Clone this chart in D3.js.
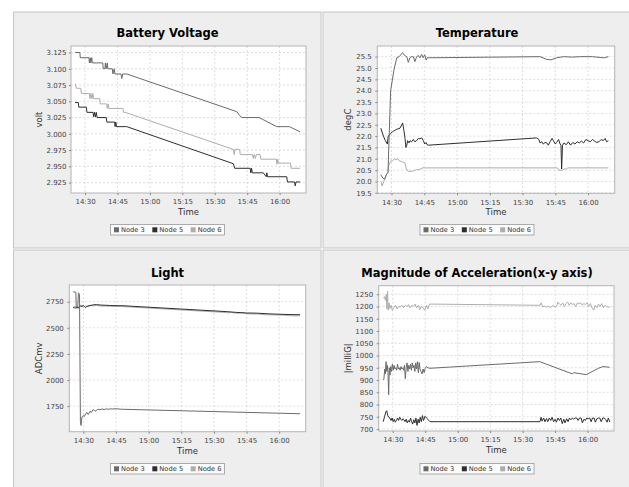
<!DOCTYPE html>
<html><head><meta charset="utf-8">
<script src="https://cdn.jsdelivr.net/npm/d3@7"></script>
<style>
body{margin:0;background:#fff;}
svg{display:block;font-family:"DejaVu Sans",sans-serif;}
</style></head><body>
<svg id="c" width="629" height="487"></svg>
<script>
// ---- data (time = minutes after 14:00) ----
const xTickLabels = ["14:30","14:45","15:00","15:15","15:30","15:45","16:00"];
const xDomainMinutes = [23.5, 132.2];
const seriesNames = ["Node 3","Node 5","Node 6"];

const voltTicks = [2.925,2.950,2.975,3.000,3.025,3.050,3.075,3.100,3.125];
const tempTicks = [19.5,20.0,20.5,21.0,21.5,22.0,22.5,23.0,23.5,24.0,24.5,25.0,25.5];
const lightTicks = [1750,2000,2250,2500,2750];
const accelTicks = [700,750,800,850,900,950,1000,1050,1100,1150,1200,1250];

const volt3 = [[25.4,3.125],[27.6,3.125],[27.8,3.117],[31.8,3.117],[32.0,3.109],[32.4,3.117],[32.7,3.109],[33.1,3.117],[33.4,3.109],[38.2,3.109],[38.4,3.100],[39.2,3.100],[39.4,3.109],[39.7,3.100],[40.3,3.109],[40.5,3.100],[42.6,3.100],[42.9,3.092],[43.5,3.100],[43.8,3.092],[46.6,3.092],[47.0,3.085],[47.4,3.092],[49.3,3.092],[100.2,3.034],[101.5,3.028],[102.5,3.025],[110.5,3.025],[118.7,3.011],[124.5,3.011],[129.5,3.003]];
const volt5 = [[25.4,3.048],[26.9,3.048],[27.1,3.041],[30.6,3.041],[30.9,3.033],[33.7,3.033],[34.0,3.026],[34.4,3.033],[34.8,3.026],[35.2,3.033],[35.6,3.025],[39.8,3.025],[40.1,3.018],[43.7,3.018],[43.9,3.011],[44.2,3.018],[44.6,3.011],[49.3,3.011],[98.6,2.954],[99.2,2.947],[106.4,2.947],[106.7,2.940],[107.0,2.947],[107.4,2.940],[112.5,2.940],[113.8,2.934],[114.1,2.940],[114.4,2.934],[123.3,2.934],[123.6,2.926],[126.9,2.926],[127.2,2.920],[127.6,2.926],[129.5,2.926]];
const volt6 = [[25.4,3.077],[26.0,3.070],[28.0,3.070],[28.3,3.062],[32.0,3.062],[32.3,3.054],[32.7,3.062],[33.2,3.054],[33.6,3.062],[34.0,3.054],[36.8,3.054],[37.0,3.046],[40.0,3.046],[40.3,3.039],[40.7,3.046],[41.0,3.039],[47.5,3.039],[47.8,3.033],[48.6,3.033],[98.6,2.976],[99.0,2.968],[99.3,2.976],[101.5,2.976],[101.8,2.968],[107.5,2.968],[107.8,2.962],[108.2,2.968],[108.8,2.962],[109.2,2.968],[111.0,2.968],[111.3,2.961],[118.5,2.961],[118.8,2.953],[119.1,2.961],[119.5,2.955],[125.0,2.955],[125.3,2.947],[129.5,2.947]];

const temp3 = [[25.1,20.3],[26.0,20.15],[26.9,20.1],[27.6,20.3],[28.4,20.4],[29.6,24.0],[31.1,24.9],[32.4,25.45],[33.5,25.5],[35.1,25.68],[36.0,25.55],[37.0,25.5],[37.7,25.25],[38.4,25.45],[39.2,25.5],[40.0,25.5],[40.7,25.28],[41.5,25.5],[42.3,25.55],[43.0,25.45],[43.8,25.6],[44.5,25.45],[45.2,25.58],[45.9,25.35],[46.3,25.45],[98.0,25.5],[101.1,25.38],[103.0,25.36],[105.6,25.45],[108.7,25.5],[113.0,25.48],[116.0,25.5],[122.0,25.5],[126.0,25.46],[127.5,25.45],[129.3,25.5]];
const temp5 = [[25.1,22.35],[26.3,22.0],[27.2,21.8],[28.1,21.65],[28.5,22.0],[29.5,22.1],[30.5,22.2],[31.5,22.25],[32.4,22.3],[33.9,22.35],[35.1,22.58],[35.6,22.3],[36.2,21.9],[36.6,21.5],[37.0,21.6],[37.4,21.8],[38.0,21.7],[38.5,21.8],[39.2,21.75],[40.0,21.85],[40.7,21.75],[41.5,21.8],[42.3,21.9],[43.0,21.88],[43.8,21.92],[44.6,21.8],[45.2,21.65],[45.8,21.72],[46.5,21.6],[46.9,21.6],[96.5,21.92],[97.5,21.85],[98.0,21.7],[98.8,21.75],[99.5,21.65],[100.3,21.72],[101.1,21.7],[101.8,21.6],[102.6,21.75],[103.5,21.9],[104.1,21.8],[105.0,21.65],[105.6,21.72],[106.5,21.85],[107.2,21.65],[107.6,21.6],[107.9,20.55],[108.3,21.6],[109.0,21.7],[110.0,21.62],[111.0,21.75],[112.0,21.6],[113.0,21.72],[114.0,21.65],[115.0,21.75],[116.0,21.7],[117.0,21.78],[118.0,21.7],[119.0,21.85],[120.0,21.8],[121.0,21.75],[122.0,21.85],[123.0,21.78],[124.0,21.72],[125.0,21.75],[126.0,21.85],[127.0,21.8],[127.8,21.9],[128.5,21.75],[129.3,21.8]];
const temp6 = [[25.1,20.0],[25.7,19.8],[26.9,20.1],[27.9,20.35],[28.4,20.4],[28.7,20.7],[29.6,20.9],[30.5,20.92],[31.5,21.0],[32.2,20.95],[32.7,21.02],[33.8,20.88],[34.5,20.9],[35.3,20.85],[36.2,20.82],[36.8,20.55],[37.6,20.45],[39.0,20.45],[40.6,20.48],[41.2,20.52],[42.1,20.52],[43.5,20.55],[44.0,20.6],[45.2,20.6],[106.0,20.6],[106.6,20.5],[108.2,20.5],[109.0,20.55],[110.0,20.55],[110.8,20.6],[129.3,20.6]];

const light3 = [[25.3,2846],[26.5,2840],[26.7,2700],[27.4,2705],[27.7,2835],[28.2,2820],[28.6,1600],[28.9,1565],[29.3,1645],[29.9,1660],[30.4,1650],[31.0,1675],[31.5,1690],[32.2,1670],[33.0,1700],[33.6,1690],[34.5,1718],[35.3,1700],[36.1,1712],[36.8,1720],[37.6,1715],[38.5,1722],[39.5,1718],[40.5,1723],[41.5,1720],[42.5,1724],[43.5,1722],[44.5,1725],[45.5,1724],[47.6,1720],[129.6,1677]];
const light5 = [[25.3,2695],[26.0,2690],[27.0,2692],[28.0,2698],[28.6,2710],[29.3,2705],[29.9,2715],[30.5,2702],[31.0,2692],[31.5,2705],[32.5,2712],[33.5,2715],[34.5,2720],[36.0,2722],[38.0,2718],[40.0,2716],[42.0,2714],[44.0,2713],[46.0,2712],[47.6,2712],[95.9,2655],[100.0,2648],[105.0,2642],[110.0,2640],[115.0,2634],[120.0,2630],[125.0,2627],[129.6,2625]];
const light6 = [[25.3,2700],[26.5,2705],[27.2,2690],[27.8,2685],[28.3,2700],[29.0,2712],[30.0,2698],[31.0,2712],[32.0,2702],[33.0,2712],[34.5,2710],[36.0,2714],[38.0,2708],[40.0,2708],[43.0,2705],[47.6,2704],[95.9,2646],[97.0,2642],[98.0,2649],[100.0,2639],[103.0,2642],[106.0,2633],[110.0,2632],[114.0,2625],[118.0,2623],[122.0,2621],[125.0,2615],[129.6,2615]];

const accel3 = [[25.4,900],[25.9,905],[26.3,945],[26.6,925],[26.9,975],[27.2,935],[27.5,960],[27.8,930],[28.1,840],[28.4,950],[28.7,920],[29.0,955],[29.4,935],[29.8,965],[30.2,940],[30.6,960],[31.0,945],[31.4,950],[31.8,940],[32.2,965],[32.6,945],[33.0,950],[33.4,940],[33.8,955],[34.2,945],[34.6,950],[35.0,940],[35.4,960],[35.8,905],[36.2,950],[36.6,970],[37.0,935],[37.4,960],[37.8,945],[38.2,965],[38.6,940],[39.0,970],[39.4,950],[39.8,960],[40.2,935],[40.6,970],[41.0,945],[41.4,975],[41.8,930],[42.2,972],[42.6,945],[43.0,935],[43.5,925],[44.0,945],[44.5,930],[45.0,948],[45.6,955],[46.2,950],[47.2,948],[97.9,975],[113.0,925],[113.5,930],[119.4,922],[125.0,948],[127.1,955],[130.2,952]];
const accel5 = [[25.6,730],[26.2,750],[26.8,770],[27.2,775],[27.7,755],[28.2,748],[28.7,745],[29.2,735],[29.7,745],[30.2,730],[30.7,740],[31.2,728],[31.7,735],[32.2,745],[32.7,735],[33.2,748],[33.7,740],[34.2,735],[34.7,742],[35.2,738],[35.7,730],[36.2,740],[36.7,725],[37.2,735],[37.7,728],[38.2,745],[38.7,730],[39.2,720],[39.7,738],[40.2,725],[40.7,745],[41.2,715],[41.7,740],[42.2,725],[42.7,748],[43.2,730],[43.7,755],[44.2,735],[44.9,752],[45.6,745],[46.2,740],[47.2,730],[98.0,730],[98.5,748],[99.0,732],[99.7,745],[100.3,730],[101.0,743],[101.6,730],[102.3,745],[103.0,735],[103.6,748],[104.3,730],[105.0,740],[105.6,728],[106.3,745],[107.0,735],[107.6,745],[108.3,722],[109.0,740],[109.6,725],[110.3,742],[111.0,730],[111.6,745],[112.3,738],[113.0,745],[113.6,740],[114.3,745],[115.0,745],[115.6,735],[116.3,745],[117.0,745],[117.6,725],[118.3,740],[119.0,735],[119.6,745],[120.3,742],[121.0,745],[121.6,730],[122.3,745],[123.0,745],[123.6,728],[124.3,742],[125.0,745],[125.6,745],[126.3,730],[127.0,745],[127.6,745],[128.3,740],[129.0,728],[129.6,745],[130.3,728]];
const accel6 = [[25.6,1235],[26.2,1240],[26.6,1225],[27.0,1250],[27.3,1190],[27.6,1262],[27.9,1185],[28.3,1215],[28.7,1192],[29.2,1205],[29.8,1185],[30.5,1195],[31.3,1205],[32.0,1190],[32.8,1200],[33.5,1198],[34.3,1205],[35.0,1195],[35.8,1205],[36.5,1200],[37.3,1208],[38.0,1195],[38.8,1205],[39.5,1200],[40.3,1210],[41.0,1195],[41.8,1205],[42.5,1188],[43.2,1200],[44.0,1195],[44.8,1185],[45.5,1205],[46.2,1190],[47.0,1210],[98.0,1205],[98.6,1215],[99.2,1198],[100.0,1202],[101.0,1198],[102.0,1200],[103.0,1196],[104.0,1205],[105.0,1198],[105.7,1200],[106.3,1218],[107.0,1210],[107.8,1205],[108.5,1215],[109.3,1200],[110.0,1212],[110.8,1218],[111.5,1205],[112.3,1215],[113.0,1208],[113.8,1212],[114.5,1200],[115.3,1215],[116.0,1210],[116.8,1215],[117.5,1205],[118.3,1212],[119.0,1208],[119.8,1215],[120.5,1200],[121.3,1212],[122.0,1195],[122.8,1185],[123.5,1205],[124.3,1195],[125.0,1210],[125.8,1200],[126.5,1212],[127.3,1195],[128.0,1205],[128.8,1200],[129.5,1198],[130.3,1198]];

// ---- styles / layout ----
const colors = ["#6a6a6a","#2e2e2e","#adadad"];
const charts = [
  {title:"Battery Voltage", yLabel:"volt", series:[volt3,volt5,volt6], yDomain:[2.909,3.135], yTicks:voltTicks, fmt:d3.format(".3f"),
   box:[13.5,12,307.5,236], plot:{l:71,t:46,r:306,b:193}, titleY:37.3, legendY:224.5, yLabX:39.3},
  {title:"Temperature", yLabel:"degC", series:[temp3,temp5,temp6], yDomain:[19.48,25.97], yTicks:tempTicks, fmt:d3.format(".1f"),
   box:[323,12,310,236], plot:{l:377.3,t:46,r:614.7,b:193.3}, titleY:37.3, legendY:224.5, yLabX:348},
  {title:"Light", yLabel:"ADCmv", series:[light3,light5,light6], yDomain:[1505,2910], yTicks:lightTicks, fmt:d3.format("d"),
   box:[13.5,250,307.5,240], plot:{l:69.3,t:285,r:305.7,b:431.7}, titleY:276.7, legendY:463.5, yLabX:39.3},
  {title:"Magnitude of Acceleration(x-y axis)", yLabel:"|milliG|", series:[accel3,accel5,accel6], yDomain:[692,1285], yTicks:accelTicks, fmt:d3.format("d"),
   box:[323,250,310,240], plot:{l:378.7,t:285.7,r:614,b:431}, titleY:277.3, legendY:463.5, yLabX:348}
];

const svg = d3.select("#c");
const base = new Date(2000,0,1,14,0,0).getTime();
const toDate = m => new Date(base + m*60000);
const parseHM = s => { const [h,m] = s.split(":").map(Number); return new Date(2000,0,1,h,m,0); };
const xTicks = xTickLabels.map(parseHM);

charts.forEach((c,ci) => {
  const g = svg.append("g");
  const [bx,by,bw,bh] = c.box;
  g.append("rect").attr("x",bx).attr("y",by).attr("width",bw).attr("height",bh)
    .attr("fill","#eeeeee").attr("stroke","#c6c6c6").attr("stroke-width",1);
  const p = c.plot;
  const x = d3.scaleTime().domain(xDomainMinutes.map(toDate)).range([p.l,p.r]);
  const y = d3.scaleLinear().domain(c.yDomain).range([p.b,p.t]);
  g.append("rect").attr("x",p.l).attr("y",p.t).attr("width",p.r-p.l).attr("height",p.b-p.t).attr("fill","#ffffff");
  // grid
  g.append("g").selectAll("line.v").data(xTicks).join("line")
    .attr("x1",d=>x(d)).attr("x2",d=>x(d)).attr("y1",p.t).attr("y2",p.b)
    .attr("stroke","#d4d4d4").attr("stroke-width",0.8).attr("stroke-dasharray","2,2");
  g.append("g").selectAll("line.h").data(c.yTicks).join("line")
    .attr("x1",p.l).attr("x2",p.r).attr("y1",d=>y(d)).attr("y2",d=>y(d))
    .attr("stroke","#d4d4d4").attr("stroke-width",0.8).attr("stroke-dasharray","2,2");
  // series
  const clipId = "clip"+ci;
  g.append("clipPath").attr("id",clipId).append("rect").attr("x",p.l).attr("y",p.t).attr("width",p.r-p.l).attr("height",p.b-p.t);
  const line = d3.line().x(d=>x(toDate(d[0]))).y(d=>y(d[1]));
  const lg = g.append("g").attr("clip-path",`url(#${clipId})`);
  [2,1,0].forEach(si => {
    lg.append("path").attr("d",line(c.series[si])).attr("fill","none")
      .attr("stroke",colors[si]).attr("stroke-width",1).attr("stroke-linejoin","round");
  });
  // outline
  g.append("rect").attr("x",p.l).attr("y",p.t).attr("width",p.r-p.l).attr("height",p.b-p.t)
    .attr("fill","none").attr("stroke","#b4b4b4").attr("stroke-width",1);
  // axes
  const xa = g.append("g").attr("transform",`translate(0,${p.b})`)
    .call(d3.axisBottom(x).tickValues(xTicks).tickFormat(d3.timeFormat("%H:%M")).tickSize(2).tickPadding(4.5));
  const ya = g.append("g").attr("transform",`translate(${p.l},0)`)
    .call(d3.axisLeft(y).tickValues(c.yTicks).tickFormat(c.fmt).tickSize(2).tickPadding(ci===0?2.5:3.5));
  [xa,ya].forEach(a => {
    a.select(".domain").remove();
    a.selectAll("line").attr("stroke","#888");
    a.selectAll("text").attr("font-size","7px").attr("fill","#444").attr("font-family","DejaVu Sans");
  });
  // titles
  const cx = bx + 154;
  g.append("text").attr("x",cx).attr("y",c.titleY).attr("text-anchor","middle")
    .attr("font-size","11.5px").attr("font-weight","bold").attr("fill","#000").text(c.title);
  g.append("text").attr("x",(p.l+p.r)/2).attr("y",p.b+22).attr("text-anchor","middle")
    .attr("font-size","8.5px").attr("fill","#333").text("Time");
  g.append("text").attr("transform",`translate(${c.yLabX},${(p.t+p.b)/2}) rotate(-90)`)
    .attr("text-anchor","middle").attr("dy","0.35em").attr("font-size","8.5px").attr("fill","#333").text(c.yLabel);
  // legend
  const leg = g.append("g");
  const box = leg.append("rect").attr("fill","#fbfbfb").attr("stroke","#9a9a9a").attr("stroke-width",0.8);
  let lx = 3.5;
  seriesNames.forEach((n,si) => {
    const it = leg.append("g").attr("transform",`translate(${lx},0)`);
    it.append("rect").attr("x",0).attr("y",2.8).attr("width",5).attr("height",5).attr("fill",colors[si]);
    const t = it.append("text").attr("x",7).attr("y",7.8).attr("font-size","6.7px").attr("fill","#333").text(n);
    lx += 7 + t.node().getComputedTextLength() + 7.5;
  });
  const lw = lx - 4.5;
  box.attr("x",0).attr("y",0).attr("width",lw).attr("height",10.5);
  leg.attr("transform",`translate(${cx - lw/2},${c.legendY})`);
});
</script>
</body></html>
